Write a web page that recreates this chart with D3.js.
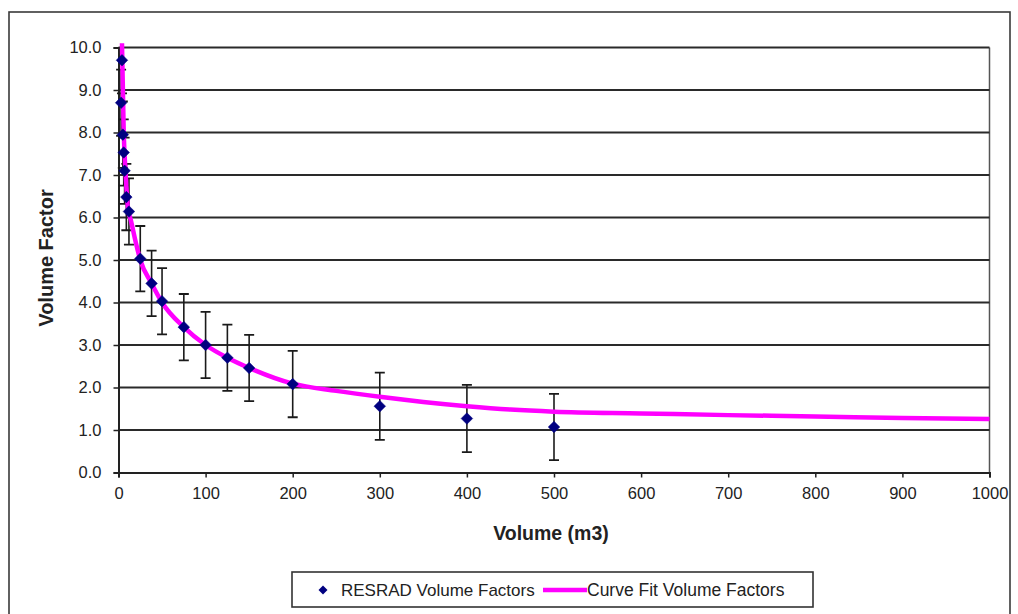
<!DOCTYPE html>
<html>
<head>
<meta charset="utf-8">
<script src="https://cdn.jsdelivr.net/npm/d3@7"></script>
<style>
  html, body { margin: 0; padding: 0; background: #fff; }
  svg { display: block; font-family: "Liberation Sans", Arial, sans-serif; }
</style>
</head>
<body>
<svg id="chart" width="1018" height="614"></svg>
<script>
// ---- data ----
const volumes      = [4, 3, 5, 6, 7, 9, 12, 25, 38, 50, 75, 100, 125, 150, 200, 300, 400, 500];
const factors      = [9.7, 8.7, 7.95, 7.53, 7.1, 6.48, 6.14, 5.03, 4.45, 4.03, 3.42, 3.0, 2.7, 2.46, 2.08, 1.56, 1.27, 1.07];
const errors       = [0.78, 0.78, 0.78, 0.78, 0.78, 0.78, 0.78, 0.77, 0.77, 0.78, 0.78, 0.78, 0.78, 0.78, 0.78, 0.79, 0.79, 0.78];
const fitVolumes   = [4, 6, 8, 11, 14, 20, 25, 38, 50, 75, 100, 125, 150, 200, 250, 300, 350, 400, 450, 500, 600, 700, 800, 900, 1000];
const fitFactors   = [10.1, 8.0, 7.1, 6.2, 5.95, 5.4, 5.0, 4.45, 4.0, 3.42, 3.0, 2.7, 2.46, 2.09, 1.92, 1.78, 1.66, 1.56, 1.48, 1.43, 1.39, 1.35, 1.32, 1.28, 1.26];
const xTicks       = [0, 100, 200, 300, 400, 500, 600, 700, 800, 900, 1000];
const yTicks       = [0, 1, 2, 3, 4, 5, 6, 7, 8, 9, 10];
const xTitle       = "Volume (m3)";
const yTitle       = "Volume Factor";
const legendLabels = ["RESRAD Volume Factors", "Curve Fit Volume Factors"];

// ---- layout ----
const svg = d3.select("#chart");
const L = 118.5, R = 989.5, T = 47.5, B = 472.5;
const x = d3.scaleLinear().domain([0, 1000]).range([L, R]);
const y = d3.scaleLinear().domain([0, 10]).range([B, T]);

// outer chart border
svg.append("rect").attr("x", 9).attr("y", 12).attr("width", 1001).attr("height", 620)
  .attr("fill", "#fff").attr("stroke", "#3a3a3a").attr("stroke-width", 1.6);

// plot area right border
svg.append("line").attr("x1", R).attr("x2", R).attr("y1", T).attr("y2", B)
  .attr("stroke", "#555").attr("stroke-width", 1.5);

// gridlines
svg.append("g").selectAll("line").data(yTicks.filter(d => d > 0)).join("line")
  .attr("x1", L).attr("x2", R).attr("y1", d => y(d)).attr("y2", d => y(d))
  .attr("stroke", "#2a2a2a").attr("stroke-width", 2);

// axes
const yAxis = svg.append("g").attr("transform", `translate(${L},0)`)
  .call(d3.axisLeft(y).tickValues(yTicks).tickFormat(d3.format(".1f")).tickSize(5).tickPadding(10));
const xAxis = svg.append("g").attr("transform", `translate(0,${B})`)
  .call(d3.axisBottom(x).tickValues(xTicks).tickFormat(d3.format("d")).tickSize(5).tickPadding(10));
[xAxis, yAxis].forEach(g => {
  g.select(".domain").attr("stroke", "#222").attr("stroke-width", 2);
  g.selectAll(".tick line").attr("stroke", "#222").attr("stroke-width", 1.5);
  g.selectAll(".tick text").attr("fill", "#222").style("font-size", "16.5px")
    .style("font-family", "'Liberation Sans', Arial, sans-serif");
});
yAxis.selectAll(".tick text").attr("dx", "-2");

// clip for plot
svg.append("clipPath").attr("id", "plotclip").append("rect")
  .attr("x", L - 10).attr("y", T).attr("width", R - L + 20).attr("height", B - T + 20);

// error bars
const eb = svg.append("g").attr("clip-path", "url(#plotclip)");
const cap = 5;
volumes.forEach((v, i) => {
  const cx = x(v), y1 = y(factors[i] + errors[i]), y2 = y(factors[i] - errors[i]);
  eb.append("line").attr("x1", cx).attr("x2", cx).attr("y1", y1).attr("y2", y2)
    .attr("stroke", "#1a1a1a").attr("stroke-width", 1.6);
  [y1, y2].forEach(yy => eb.append("line").attr("x1", cx - cap).attr("x2", cx + cap)
    .attr("y1", yy).attr("y2", yy).attr("stroke", "#1a1a1a").attr("stroke-width", 1.8));
});

// fitted curve
const line = d3.line().x((d, i) => x(fitVolumes[i])).y(d => y(d)).curve(d3.curveMonotoneX);
svg.append("path").datum(fitFactors).attr("d", line)
  .attr("fill", "none").attr("stroke", "#ff00ff").attr("stroke-width", 4.5)
  .attr("stroke-linejoin", "round");

// diamond markers
const diamond = (cx, cy, r) => `M${cx},${cy - r}L${cx + r},${cy}L${cx},${cy + r}L${cx - r},${cy}Z`;
svg.append("g").selectAll("path").data(factors).join("path")
  .attr("d", (d, i) => diamond(x(volumes[i]), y(d), 5.8))
  .attr("fill", "#000080").attr("stroke", "#000080").attr("stroke-width", 0.5);

// titles
svg.append("text").attr("x", (L + R) / 2 - 3).attr("y", 540).attr("text-anchor", "middle")
  .style("font-size", "19.5px").style("font-weight", "bold").attr("fill", "#222").text(xTitle);
svg.append("text").attr("transform", `translate(53,${(T + B) / 2 - 2}) rotate(-90)`).attr("text-anchor", "middle")
  .style("font-size", "20px").style("font-weight", "bold").attr("fill", "#222").text(yTitle);

// legend
const lg = svg.append("g");
lg.append("rect").attr("x", 292).attr("y", 572).attr("width", 521).attr("height", 35)
  .attr("fill", "#fff").attr("stroke", "#333").attr("stroke-width", 1.6);
lg.append("path").attr("d", diamond(323, 590, 4.5)).attr("fill", "#000080");
lg.append("text").attr("x", 341).attr("y", 596).style("font-size", "17px").attr("fill", "#222").text(legendLabels[0]);
lg.append("line").attr("x1", 543).attr("x2", 587).attr("y1", 590).attr("y2", 590)
  .attr("stroke", "#ff00ff").attr("stroke-width", 4.5);
lg.append("text").attr("x", 587).attr("y", 596).style("font-size", "17.5px").attr("fill", "#222").text(legendLabels[1]);
</script>
</body>
</html>
